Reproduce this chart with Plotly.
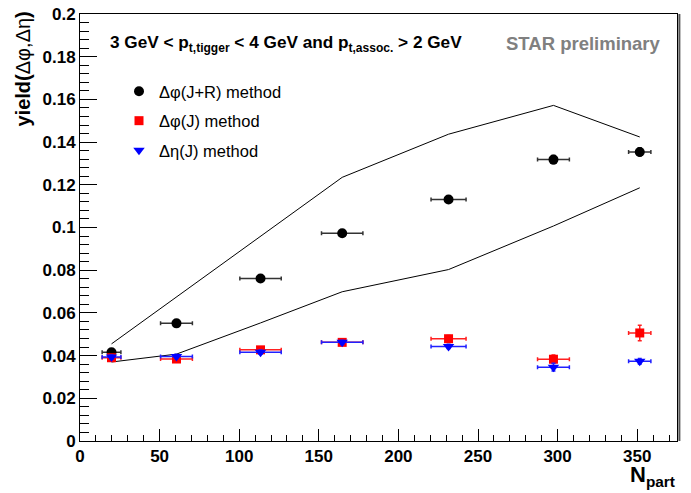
import plotly.graph_objects as go

# ---- data ----
npart = [19.8, 60.6, 113.4, 164.7, 231.5, 297.4, 351.6]
npart_err = [5.9, 10.0, 13.0, 13.0, 11.0, 10.0, 7.0]

yield_jr = [0.0416, 0.0551, 0.0761, 0.0973, 0.1131, 0.1318, 0.1354]
yield_jr_err = [0.001, 0.001, 0.001, 0.001, 0.0012, 0.0019, 0.0019]

yield_phi_j = [0.0390, 0.0384, 0.0427, 0.0462, 0.0479, 0.0383, 0.0506]
yield_phi_j_err = [0.001, 0.001, 0.001, 0.001, 0.0015, 0.0020, 0.0036]

yield_eta_j = [0.0393, 0.0396, 0.0416, 0.0462, 0.0443, 0.0346, 0.0374]
yield_eta_j_err = [0.001, 0.001, 0.001, 0.001, 0.001, 0.0018, 0.0013]

band_upper = [0.0455, 0.0675, 0.0959, 0.1235, 0.1437, 0.1572, 0.1424]
band_lower = [0.0370, 0.0407, 0.0553, 0.0699, 0.0803, 0.1007, 0.1186]

x_tickvals = [0, 50, 100, 150, 200, 250, 300, 350]
x_ticktext = ["0", "50", "100", "150", "200", "250", "300", "350"]
y_tickvals = [0, 0.02, 0.04, 0.06, 0.08, 0.1, 0.12, 0.14, 0.16, 0.18, 0.2]
y_ticktext = ["0", "0.02", "0.04", "0.06", "0.08", "0.1", "0.12", "0.14", "0.16", "0.18", "0.2"]

FONT = "Liberation Sans, Arial, Helvetica, sans-serif"

fig = go.Figure()

# systematic band lines
fig.add_trace(go.Scatter(x=npart, y=band_upper, mode="lines",
                         line=dict(color="black", width=1), showlegend=False, hoverinfo="skip"))
fig.add_trace(go.Scatter(x=npart, y=band_lower, mode="lines",
                         line=dict(color="black", width=1), showlegend=False, hoverinfo="skip"))

def series(y, yerr, name, color, symbol, size, ecolor, group):
    return go.Scatter(
        x=npart, y=y, mode="markers", name=name, legendgroup=group,
        marker=dict(color=color, symbol=symbol, size=size, line=dict(width=0)),
        error_x=dict(type="data", array=npart_err, visible=True, color=ecolor, thickness=1.5, width=2),
        error_y=dict(type="data", array=yerr, visible=True, color=ecolor, thickness=1.5, width=2),
    )

fig.add_trace(series(yield_jr, yield_jr_err, "Δφ(J+R) method", "black", "circle", 10, "#333333", "a"))
fig.add_trace(series(yield_phi_j, yield_phi_j_err, "Δφ(J) method", "#ff0000", "square", 9, "#ff2020", "b"))
fig.add_trace(series(yield_eta_j, yield_eta_j_err, "Δη(J) method", "#0000ff", "triangle-down", 10, "#2020ff", "c"))

fig.update_layout(
    width=691, height=493,
    margin=dict(l=80, r=14, t=14, b=52, autoexpand=False),
    paper_bgcolor="white", plot_bgcolor="white",
    font=dict(family=FONT, color="black"),
    showlegend=True,
    legend=dict(x=(119 - 80) / 597, y=(441 - 74) / 427, xanchor="left", yanchor="top",
                bgcolor="rgba(0,0,0,0)", font=dict(size=16.5, family=FONT),
                tracegroupgap=5, itemwidth=30),
    xaxis=dict(range=[0, 375], tickvals=x_tickvals, ticktext=x_ticktext, automargin=False,
               ticks="inside", ticklen=12, tickwidth=1, tickcolor="black",
               minor=dict(dtick=10, ticklen=6, ticks="inside", tickcolor="black", tickwidth=1),
               showgrid=False, zeroline=False, showline=True, linecolor="black", linewidth=1,
               mirror=True, tickfont=dict(size=17, family=FONT, weight="bold")),
    yaxis=dict(range=[0, 0.2], tickvals=y_tickvals, ticktext=y_ticktext, automargin=False,
               ticks="inside", ticklen=17, tickwidth=1, tickcolor="black",
               minor=dict(dtick=0.004, ticklen=9, ticks="inside", tickcolor="black", tickwidth=1),
               showgrid=False, zeroline=False, showline=True, linecolor="black", linewidth=1,
               mirror=True, tickfont=dict(size=17, family=FONT, weight="bold")),
)

# right frame shadow
fig.add_shape(type="line", xref="paper", yref="paper", x0=1.004, x1=1.004, y0=0, y1=1.0,
              line=dict(color="#555555", width=2))

fig.add_annotation(xref="paper", yref="paper", x=(108 - 80) / 597, y=(441 - 44) / 427,
                   xanchor="left", yanchor="middle", showarrow=False,
                   text="<b>3 GeV &lt; p<sub>t,tigger</sub> &lt; 4 GeV and p<sub>t,assoc.</sub> &gt; 2 GeV</b>",
                   font=dict(size=17.2, family=FONT, color="black"))
fig.add_annotation(xref="paper", yref="paper", x=(663 - 80) / 597, y=(441 - 44) / 427,
                   xanchor="right", yanchor="middle", showarrow=False,
                   text="<b>STAR preliminary</b>",
                   font=dict(size=18.5, family=FONT, color="#808080"))
fig.add_annotation(xref="paper", yref="paper", x=(22 - 80) / 597, y=(441 - 10) / 427,
                   xanchor="center", yanchor="top", showarrow=False, textangle=-90,
                   text="<b>yield(</b>Δφ,Δη<b>)</b>",
                   font=dict(size=20, family=FONT, color="black"))
fig.add_annotation(xref="paper", yref="paper", x=1.0, y=(441 - 460) / 427,
                   xanchor="right", yanchor="top", showarrow=False,
                   text="<b>N<sub>part</sub></b>",
                   font=dict(size=22, family=FONT, color="black"))

fig.write_html("out.html", config={"displayModeBar": False},
               post_script="document.body.style.margin='0';document.body.style.padding='0';")
